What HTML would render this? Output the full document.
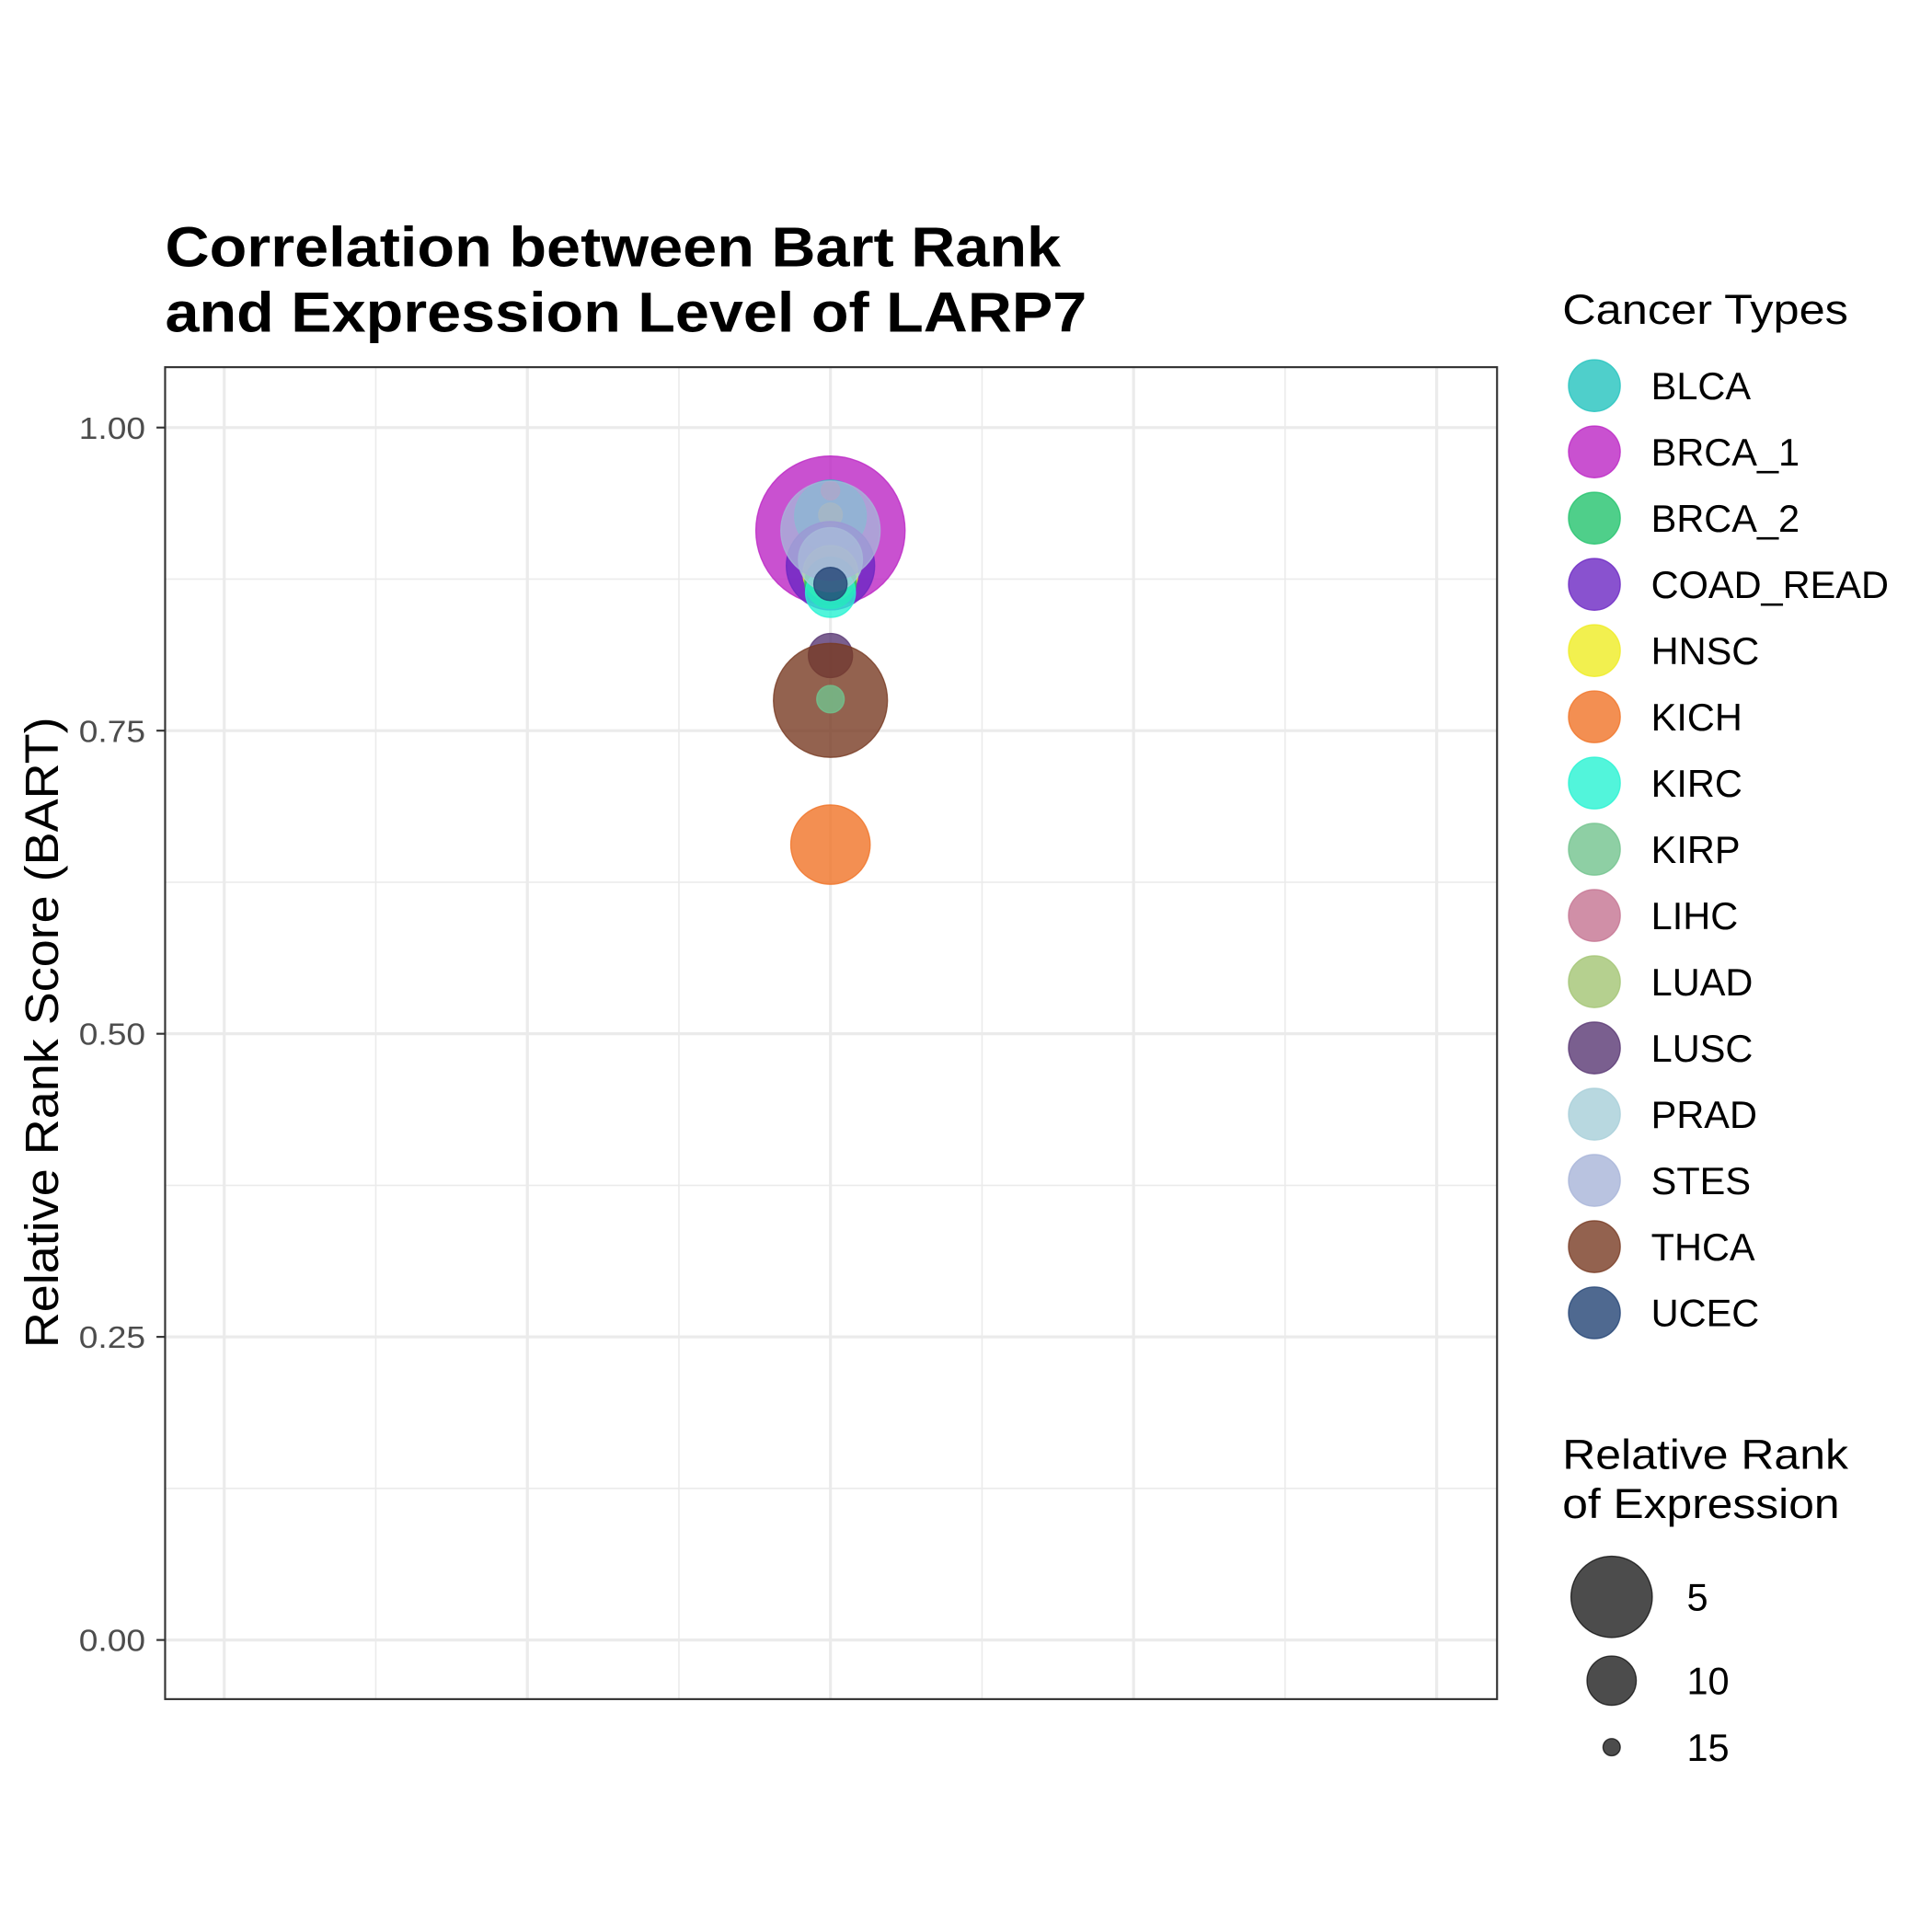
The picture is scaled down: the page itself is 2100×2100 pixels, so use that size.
<!DOCTYPE html>
<html><head><meta charset="utf-8"><style>
html,body{margin:0;padding:0;background:#fff}
svg{display:block;font-family:"Liberation Sans",Arial,sans-serif}
</style></head><body>
<svg id="chart" width="2100" height="2100" viewBox="0 0 1568 1568" xmlns="http://www.w3.org/2000/svg">
<rect width="1568" height="1568" fill="#fff"/>
<g font-weight="bold" font-size="46" fill="#000">
<text x="134" y="216" textLength="727" lengthAdjust="spacingAndGlyphs">Correlation between Bart Rank</text>
<text x="134" y="269" textLength="748" lengthAdjust="spacingAndGlyphs">and Expression Level of LARP7</text>
</g>
<g id="grid"></g>
<g id="points"></g>
<rect x="134" y="298" width="1081" height="1081" fill="none" stroke="#333" stroke-width="1.6"/>
<g id="yticks"></g>
<text transform="translate(47,838) rotate(-90)" text-anchor="middle" font-size="38" fill="#000" textLength="512" lengthAdjust="spacingAndGlyphs">Relative Rank Score (BART)</text>
<text x="1268" y="263" font-size="34" fill="#000" textLength="232" lengthAdjust="spacingAndGlyphs">Cancer Types</text>
<g id="legend"></g>
<g font-size="34" fill="#000">
<text x="1268" y="1192" textLength="232" lengthAdjust="spacingAndGlyphs">Relative Rank</text>
<text x="1268" y="1232" textLength="225" lengthAdjust="spacingAndGlyphs">of Expression</text>
</g>
<g id="sizelegend"></g>
</svg>
<script>
const cancers = ["BLCA","BRCA_1","BRCA_2","COAD_READ","HNSC","KICH","KIRC","KIRP","LIHC","LUAD","LUSC","PRAD","STES","THCA","UCEC"];
const colors = ["#23c3be","#bb25c4","#23c36d","#6c27c3","#efec23","#f07327","#27f3d2","#72c38d","#c47391","#a3c473","#593773","#a6ced8","#a8b4d8","#783b23","#234374"];
const bartScore = [0.927,0.915,0.872,0.886,0.880,0.656,0.864,0.776,0.948,0.928,0.812,0.891,0.915,0.775,0.871];
const exprRank = [6.5,-5.6,9.7,3.9,9.1,5.3,9.9,13.4,14.8,14.0,10.8,7.7,2.2,-0.1,12.5];
const xValue = [0,0,0,0,0,0,0,0,0,0,0,0,0,0,0];
const drawOrder = ["BRCA_1","BLCA","LIHC","LUAD","COAD_READ","HNSC","BRCA_2","KIRC","PRAD","STES","UCEC","LUSC","THCA","KIRP","KICH"];
const yTicks = [0,0.25,0.5,0.75,1];
const yTickLabels = ["0.00","0.25","0.50","0.75","1.00"];
const sizeBreaks = [5,10,15];

const NS="http://www.w3.org/2000/svg";
function el(t,a){const e=document.createElementNS(NS,t);for(const k in a)e.setAttribute(k,a[k]);return e;}
const yS=v=>1331-v*984;
const xS=v=>674+v*246;
const rS=v=>7+2.6*(15-v);
const grid=document.getElementById('grid');
[0.125,0.375,0.625,0.875].forEach(v=>{const l=el('line',{x1:134,x2:1215,y1:yS(v),y2:yS(v),stroke:'#ebebeb','stroke-width':1.2});

grid.appendChild(l);});
[-1.5,-0.5,0.5,1.5].forEach(v=>{const l=el('line',{y1:298,y2:1379,x1:xS(v),x2:xS(v),stroke:'#ebebeb','stroke-width':1.2});

grid.appendChild(l);});
yTicks.forEach(v=>{const l=el('line',{x1:134,x2:1215,y1:yS(v),y2:yS(v),stroke:'#ebebeb','stroke-width':2.4});

grid.appendChild(l);});
[-2,-1,0,1,2].forEach(v=>{const l=el('line',{y1:298,y2:1379,x1:xS(v),x2:xS(v),stroke:'#ebebeb','stroke-width':2.4});

grid.appendChild(l);});
const yt=document.getElementById('yticks');
yTicks.forEach((v,i)=>{const t=el('line',{x1:127,x2:134,y1:yS(v),y2:yS(v),stroke:'#333','stroke-width':1.6});

yt.appendChild(t);
const tx=el('text',{x:118,y:yS(v)+9,'text-anchor':'end','font-size':25,fill:'#4d4d4d',textLength:54,lengthAdjust:'spacingAndGlyphs'});tx.textContent=yTickLabels[i];

yt.appendChild(tx);});
const pts=document.getElementById('points');
drawOrder.forEach(name=>{const i=cancers.indexOf(name);
const c=el('circle',{cx:xS(xValue[i]),cy:yS(bartScore[i]),r:rS(exprRank[i]),fill:colors[i],'fill-opacity':0.8,stroke:colors[i],'stroke-opacity':0.8,'stroke-width':1});

pts.appendChild(c);});
const lg=document.getElementById('legend');
cancers.forEach((c,i)=>{const y=313+i*53.75;
const g=el('g',{});


g.appendChild(el('circle',{cx:1294,cy:y,r:21,fill:colors[i],'fill-opacity':0.8,stroke:colors[i],'stroke-opacity':0.8}));
const t=el('text',{x:1340,y:y+11,'font-size':31,fill:'#000'});t.textContent=c;g.appendChild(t);lg.appendChild(g);});
const sl=document.getElementById('sizelegend');
const sy=[1296,1364,1418];
sizeBreaks.forEach((v,i)=>{const g=el('g',{});


g.appendChild(el('circle',{cx:1308,cy:sy[i],r:rS(v),fill:'#000','fill-opacity':0.7,stroke:'#000','stroke-opacity':0.7}));
const t=el('text',{x:1369,y:sy[i]+11,'font-size':31,fill:'#000'});t.textContent=v;g.appendChild(t);sl.appendChild(g);});
</script>
</body></html>
